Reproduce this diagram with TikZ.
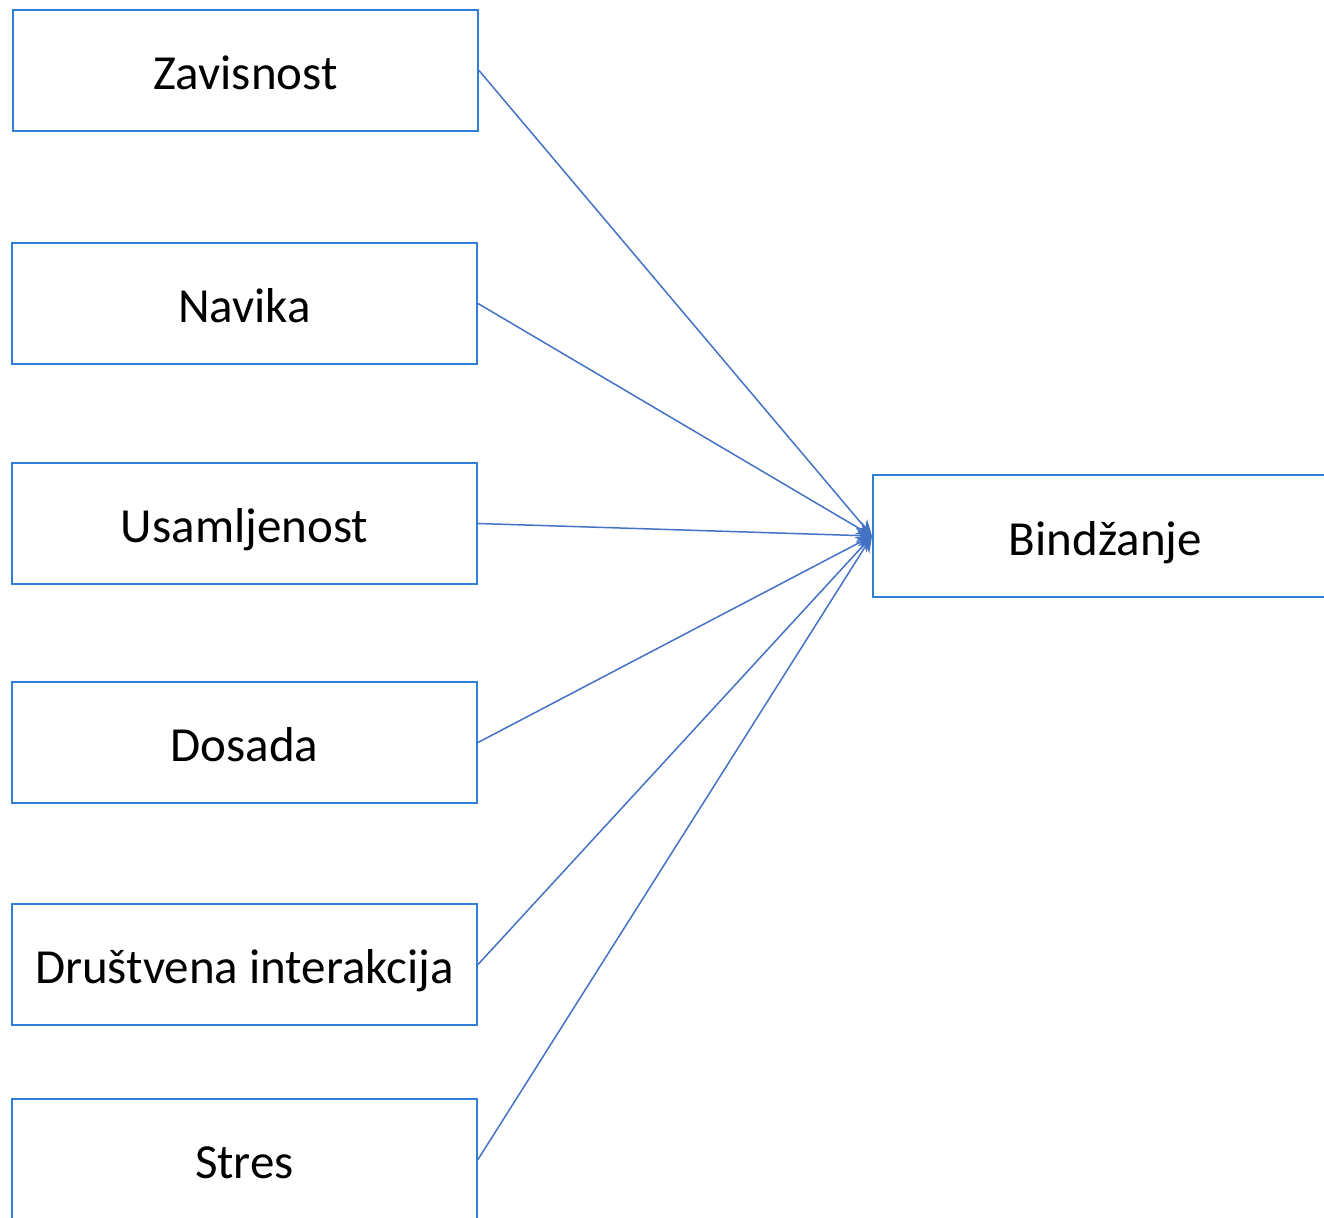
\documentclass[tikz,border=0pt]{standalone}
\usepackage{fontspec}
\setmainfont{Carlito}
\usetikzlibrary{arrows.meta}
\usetikzlibrary{positioning}
\definecolor{boxblue}{HTML}{2F7ED8}
\definecolor{linkblue}{HTML}{4472C4}

\begin{document}
\begin{tikzpicture}[x=0.5pt, y=-0.5pt,
        factor/.style={rectangle, draw=boxblue, line width=1pt, fill=white, minimum width=232.5pt, minimum height=60.5pt, inner sep=0pt, text height=21pt, text depth=1.5pt, font=\fontsize{24.5}{29}\selectfont},
        target/.style={rectangle, draw=boxblue, line width=1pt, fill=white, minimum width=232.5pt, minimum height=61pt, inner sep=0pt, text height=21pt, text depth=1.5pt, font=\fontsize{24.5}{29}\selectfont},
        link/.style={draw=linkblue, line width=0.75pt, -{Stealth[length=8pt, width=7pt]}}
      ]
        \useasboundingbox (0,0) rectangle (1324,1218);

        \node[factor]  (zav)   at(245.5, 70.5)   {Zavisnost};
        \node[factor]  (nav)   at(244.5, 303.5)  {Navika};
        \node[factor]  (usa)   at(244.5, 523.5)  {Usamljenost};
        \node[factor]  (dos)   at(244.5, 742.5)  {Dosada};
        \node[factor]  (dru)   at(244.5, 964.5)  {Društvena interakcija};
        \node[factor]  (str)   at(244.5, 1159.5) {Stres};
        \node[target]  (bind)  at(1105.5, 536)   {Bindžanje};

        \draw[link]  (zav.east) -- (bind.west);
        \draw[link]  (nav.east) -- (bind.west);
        \draw[link]  (usa.east) -- (bind.west);
        \draw[link]  (dos.east) -- (bind.west);
        \draw[link]  (dru.east) -- (bind.west);
        \draw[link]  (str.east) -- (bind.west);
      \end{tikzpicture}
\end{document}
